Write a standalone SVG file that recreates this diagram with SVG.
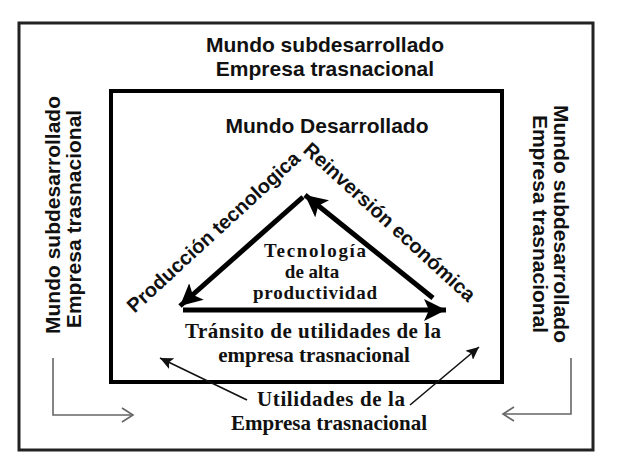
<svg xmlns="http://www.w3.org/2000/svg" width="635" height="466" viewBox="0 0 635 466">
<style>
.sans{font-family:"Liberation Sans","DejaVu Sans",Arial,sans-serif;font-weight:bold;font-size:21px;fill:#111;text-anchor:middle}
.diag{font-size:20px}
.serif{font-family:"Liberation Serif","Times New Roman",serif;font-weight:bold;font-size:21px;fill:#111;text-anchor:middle}
.mid{font-size:19px}
.thick{stroke:#000;stroke-width:5;fill:none}
.thin{stroke:#111;stroke-width:1.6;fill:none}
.gray{stroke:#666;stroke-width:1.6;fill:none}
</style>
<defs>
<marker id="big" markerUnits="userSpaceOnUse" markerWidth="24" markerHeight="22" refX="22" refY="11" orient="auto">
<path d="M0,0 L22,11 L0,22 L5,11 z" fill="#000"/>
</marker>
<marker id="small" markerUnits="userSpaceOnUse" markerWidth="14" markerHeight="12" refX="13" refY="6" orient="auto">
<path d="M0,0 L13,6 L0,12 L3,6 z" fill="#111"/>
</marker>
<marker id="open" markerUnits="userSpaceOnUse" markerWidth="14" markerHeight="16" refX="12" refY="8" orient="auto">
<path d="M1,1 L12,8 L1,15" fill="none" stroke="#666" stroke-width="1.6"/>
</marker>
</defs>
<rect width="635" height="466" fill="#fff"/>
<g id="outer">
<rect x="19" y="23" width="574" height="427" fill="none" stroke="#222" stroke-width="3"/>
<text class="sans" x="325" y="52">Mundo subdesarrollado</text>
<text class="sans" x="325" y="76">Empresa trasnacional</text>
</g>
<g id="left-label">
<text class="sans" transform="translate(60,215) rotate(-90)">Mundo subdesarrollado</text>
<text class="sans" transform="translate(81,219) rotate(-90)">Empresa trasnacional</text>
</g>
<g id="right-label">
<text class="sans" transform="translate(554,224) rotate(90)">Mundo subdesarrollado</text>
<text class="sans" transform="translate(533,224) rotate(90)">Empresa trasnacional</text>
</g>
<g id="inner">
<rect x="111" y="91" width="391" height="291" fill="none" stroke="#000" stroke-width="4"/>
<text class="sans" x="327" y="133">Mundo Desarrollado</text>
</g>
<g id="centre">
<text class="serif mid" x="315" y="257" textLength="102" lengthAdjust="spacing">Tecnología</text>
<text class="serif mid" x="312" y="278">de alta</text>
<text class="serif mid" x="315" y="299" textLength="124" lengthAdjust="spacing">productividad</text>
</g>
<g id="transit">
<text class="serif" x="313" y="338" textLength="256" lengthAdjust="spacing">Tránsito de utilidades de la</text>
<text class="serif" x="314" y="362">empresa trasnacional</text>
</g>
<g id="profits">
<text class="serif" x="331" y="406" textLength="148" lengthAdjust="spacing">Utilidades de la</text>
<text class="serif" x="329" y="430">Empresa trasnacional</text>
</g>
<g id="labels">
<text class="sans diag" transform="translate(218,237) rotate(-42.6)">Producción tecnologica</text>
<text class="sans diag" transform="translate(385,227) rotate(42.4)">Reinversión económica</text>
</g>
<g id="connectors">
<line class="thick" x1="303" y1="197" x2="180" y2="306" marker-end="url(#big)"/>
<line class="thick" x1="433" y1="298" x2="305" y2="195" marker-end="url(#big)"/>
<line class="thick" x1="183" y1="310" x2="446" y2="310" marker-end="url(#big)"/>
<line class="thin" x1="247" y1="400" x2="160" y2="358" marker-end="url(#small)"/>
<line class="thin" x1="410" y1="405" x2="479" y2="347" marker-end="url(#small)"/>
<polyline class="gray" points="53,358 53,415 133,415" marker-end="url(#open)"/>
<polyline class="gray" points="571,358 571,414 503,414" marker-end="url(#open)"/>
</g>
</svg>
